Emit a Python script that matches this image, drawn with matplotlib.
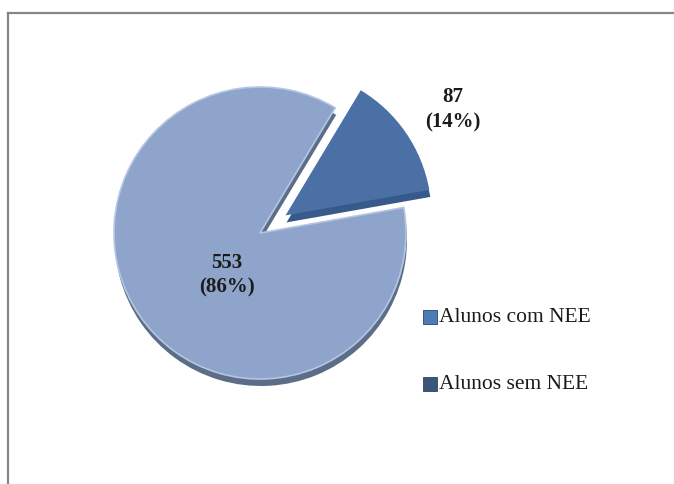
import matplotlib
matplotlib.use("Agg")
import matplotlib.pyplot as plt
from matplotlib.lines import Line2D
from matplotlib.patches import Rectangle

# Alunos com / sem necessidades educativas especiais
labels = ["Alunos com NEE", "Alunos sem NEE"]
counts = [87, 553]
pcts = [14, 86]

FACE = ["#4a70a5", "#8ea4ca"]
SIDE = ["#375a8b", "#5d6d88"]
LEGEND_MARK = ["#4c7bb8", "#3b5479"]

W, H = 674, 485
fig = plt.figure(figsize=(W / 100, H / 100), dpi=100, facecolor="white")
ax = fig.add_axes([0, 0, 1, 1])
ax.set_aspect("equal")
ax.axis("off")

cx, cy, r = 260, H - 234, 146
explode = [31, 0]

# thickness / shadow layer underneath the faces
ax.pie(counts, center=(cx + 1, cy - 7), radius=r, startangle=59,
       counterclock=False, colors=SIDE, explode=explode,
       wedgeprops=dict(linewidth=0))
wedges, _ = ax.pie(counts, center=(cx, cy), radius=r, startangle=59,
                   counterclock=False, colors=FACE, explode=explode,
                   wedgeprops=dict(linewidth=0))
# light rim on the big slice
wedges[1].set_edgecolor("#b4c6e4")
wedges[1].set_linewidth(1.2)

ax.set_xlim(0, W)
ax.set_ylim(0, H)

serif = ["Liberation Serif", "DejaVu Serif"]
ax.text(453, H - 110, f"{counts[0]}\n({pcts[0]}%)", ha="center", va="center",
        fontsize=15, fontweight="bold", family=serif, linespacing=1.35,
        color="#1a1a1a")
ax.text(227, H - 275, f"{counts[1]}\n({pcts[1]}%)", ha="center", va="center",
        fontsize=15, fontweight="bold", family=serif, linespacing=1.3,
        color="#1a1a1a")

# legend
for i, (lab, col) in enumerate(zip(labels, LEGEND_MARK)):
    y = H - (318 + 67 * i)
    ax.add_patch(Rectangle((423, y - 7), 14, 14, facecolor=col,
                           edgecolor="#2d4466", linewidth=0.6))
    ax.text(439, y, lab, ha="left", va="center", fontsize=15.5,
            family=serif, color="#1a1a1a")

# chart frame (top and left edges)
fig.add_artist(Line2D([8 / W, 1], [1 - 14 / H, 1 - 14 / H],
                      transform=fig.transFigure, color="#868686", lw=1.6))
fig.add_artist(Line2D([8 / W, 8 / W], [0, 1 - 14 / H],
                      transform=fig.transFigure, color="#868686", lw=1.6))

fig.savefig("out.png", dpi=100, facecolor="white")
